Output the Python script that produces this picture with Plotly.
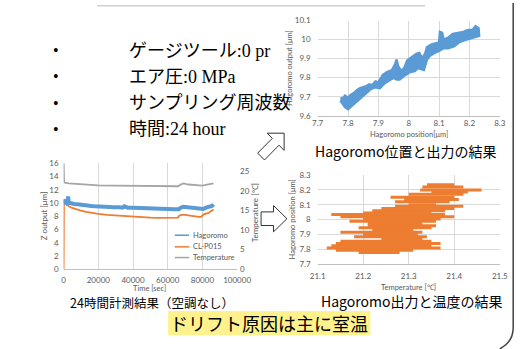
import plotly.graph_objects as go

W, H = 532, 349
def px(x): return x / W
def py(y): return 1 - y / H

BLUE = "#5B9BD5"
ORANGE = "#ED7D31"
GRAY = "#A5A5A5"
TICK = "#595959"
GRID = "#D9D9D9"

# ---------------- Chart 1: Hagoromo position vs output (band outline) ----------------
band_pos = [7.775, 7.785, 7.79, 7.80, 7.81, 7.82, 7.83, 7.84, 7.85, 7.86, 7.87, 7.88, 7.89, 7.90, 7.915, 7.93, 7.945, 7.955, 7.96,
            7.965, 7.975, 7.985, 7.995, 8.01, 8.025, 8.035, 8.045, 8.055, 8.06, 8.075, 8.09, 8.10,
            8.103, 8.11, 8.115, 8.13, 8.145, 8.16, 8.18, 8.195, 8.21, 8.22, 8.23,
            8.232, 8.22, 8.20, 8.18, 8.165, 8.15, 8.13, 8.115, 8.10, 8.085, 8.07, 8.06, 8.05, 8.04,
            8.03, 8.02, 8.005, 7.995, 7.985, 7.97, 7.96, 7.95, 7.935, 7.92, 7.905, 7.89, 7.875, 7.86,
            7.845, 7.83, 7.815, 7.80, 7.79, 7.78, 7.775]
band_out = [9.69, 9.695, 9.705, 9.695, 9.71, 9.72, 9.735, 9.745, 9.75, 9.755, 9.765, 9.76, 9.78, 9.775, 9.815, 9.83, 9.84, 9.87, 9.895,
            9.86, 9.835, 9.85, 9.89, 9.91, 9.925, 9.93, 9.90, 9.93, 9.96, 9.975, 9.98, 9.985,
            10.04, 10.035, 10.0, 10.01, 10.03, 10.035, 10.04, 10.05, 10.05, 10.07, 10.06,
            10.02, 10.015, 10.005, 9.995, 9.985, 9.965, 9.955, 9.955, 9.94, 9.93, 9.915, 9.895, 9.84, 9.845,
            9.85, 9.835, 9.83, 9.82, 9.81, 9.79, 9.79, 9.80, 9.785, 9.77, 9.745, 9.75, 9.74, 9.72,
            9.70, 9.68, 9.655, 9.635, 9.645, 9.665, 9.68]

# ---------------- Chart 2: 24 h time series ----------------
hag_t = [0, 500, 1000, 1500, 2000, 2400, 2600, 3000, 4000, 5000, 6000, 8000, 10000, 12000, 14000,
         16000, 18000, 20000, 23000, 26000, 29000, 32000, 34000, 35000, 37000, 40000, 43000, 46000,
         49000, 52000, 55000, 58000, 61000, 64000, 66500, 67500, 69000, 71000, 73000, 75000, 77000,
         79000, 80500, 82000, 84000, 85500, 86400]
hag_z = [10.5, 10.3, 10.1, 10.2, 10.0, 10.1, 11.0, 10.0, 10.0, 9.9, 9.85, 9.8, 9.7, 9.65, 9.6,
         9.55, 9.5, 9.45, 9.45, 9.4, 9.35, 9.35, 9.3, 9.5, 9.3, 9.3, 9.25, 9.2,
         9.15, 9.1, 9.1, 9.05, 9.05, 9.05, 9.05, 9.3, 9.45, 9.4, 9.35, 9.25, 9.2,
         9.05, 9.1, 9.3, 9.4, 9.55, 9.8]

cl_t = [0, 200, 1000, 2000, 3000, 4500, 6000, 8000, 10000, 13000, 16000, 20000, 25000, 30000,
        35000, 40000, 45000, 50000, 55000, 60000, 64000, 66000, 66700, 68000, 70000, 72000, 74000,
        76000, 78000, 79300, 80500, 82000, 83500, 85000, 86400]
cl_z = [0, 10.6, 10.0, 9.7, 9.5, 9.3, 9.15, 9.0, 8.85, 8.65, 8.5, 8.35, 8.2, 8.1,
        8.0, 7.95, 7.85, 7.8, 7.75, 7.75, 7.75, 7.8, 8.1, 8.2, 8.2, 8.1, 8.0,
        7.95, 7.9, 7.9, 8.25, 8.4, 8.5, 8.8, 9.0]

temp_t = [0, 300, 3000, 6000, 10000, 15000, 20000, 30000, 40000, 50000, 60000, 66000, 67500,
          69000, 72000, 76000, 80000, 82000, 84000, 85000, 86400]
temp_c = [27.5, 22.1, 21.9, 21.8, 21.6, 21.5, 21.4, 21.3, 21.25, 21.2, 21.15, 21.15, 21.6,
          21.9, 21.6, 21.4, 21.3, 21.5, 21.6, 21.8, 21.9]

# ---------------- Chart 3: temperature vs position (horizontal streaks) ----------------
streak_pos = [8.235, 8.22, 8.20, 8.185, 8.17, 8.15, 8.135, 8.12, 8.10, 8.09, 8.075, 8.06, 8.045, 8.035,
              8.02, 8.005, 7.99, 7.975, 7.96, 7.945, 7.93, 7.915, 7.90, 7.885, 7.87, 7.855, 7.84,
              7.825, 7.81, 7.795, 7.78]
streak_t0 = [21.34, 21.33, 21.325, 21.35, 21.30, 21.26, 21.29, 21.27, 21.30, 21.27, 21.24, 21.22, 21.20, 21.13,
             21.15, 21.20, 21.17, 21.21, 21.21, 21.19, 21.22, 21.15, 21.20, 21.18, 21.24, 21.15, 21.14,
             21.13, 21.12, 21.14, 21.19]
streak_t1 = [21.40, 21.42, 21.46, 21.43, 21.42, 21.40, 21.41, 21.39, 21.36, 21.42, 21.40, 21.38, 21.35, 21.38,
             21.40, 21.37, 21.36, 21.33, 21.36, 21.35, 21.31, 21.33, 21.32, 21.34, 21.33, 21.35, 21.37,
             21.35, 21.37, 21.31, 21.28]

sx, sy = [], []
for yv, a, b in zip(streak_pos, streak_t0, streak_t1):
    sx += [a, b, None]
    sy += [yv, yv, None]

fig = go.Figure()
fig.add_trace(go.Scatter(x=band_pos, y=band_out, mode="lines", fill="toself", fillcolor=BLUE,
                         line=dict(color=BLUE, width=2.5), xaxis="x", yaxis="y",
                         showlegend=False, hoverinfo="skip"))
fig.add_trace(go.Scatter(x=temp_t, y=temp_c, mode="lines", line=dict(color=GRAY, width=1.8),
                         xaxis="x2", yaxis="y3", name="Temperature", showlegend=False))
fig.add_trace(go.Scatter(x=cl_t, y=cl_z, mode="lines", line=dict(color=ORANGE, width=1.8),
                         xaxis="x2", yaxis="y2", name="CL-P015", showlegend=False))
fig.add_trace(go.Scatter(x=hag_t, y=hag_z, mode="lines", line=dict(color=BLUE, width=4),
                         xaxis="x2", yaxis="y2", name="Hagoromo", showlegend=False))
fig.add_trace(go.Scatter(x=sx, y=sy, mode="lines", line=dict(color=ORANGE, width=3),
                         xaxis="x3", yaxis="y4", showlegend=False, hoverinfo="skip"))

tickf = dict(family="Lato, Open Sans, sans-serif", size=8, color=TICK)
common = dict(showgrid=True, gridcolor=GRID, gridwidth=0.8, zeroline=False, ticks="",
              tickfont=tickf, fixedrange=True)

fig.update_layout(
    width=W, height=H, margin=dict(l=0, r=0, t=0, b=0),
    paper_bgcolor="white", plot_bgcolor="white", showlegend=False,
    xaxis=dict(domain=[px(323), px(513)], range=[7.7, 8.3], tick0=7.7, dtick=0.1, anchor="y",
               showline=True, linecolor="#BFBFBF", ticklabelstandoff=0, **common),
    yaxis=dict(domain=[py(114), py(16)], range=[9.6, 10.1], tick0=9.6, dtick=0.1, anchor="x",
               ticklabelstandoff=6, **common),
    xaxis2=dict(domain=[px(58), px(239)], range=[0, 100000], dtick=20000, tickformat="d",
                anchor="y2", showline=True, linecolor="#BFBFBF", ticklabelstandoff=3, **common),
    yaxis2=dict(domain=[py(272), py(163)], range=[0, 16], dtick=2, anchor="x2",
                showgrid=False, zeroline=False, ticks="", tickfont=tickf, ticklabelstandoff=4),
    yaxis3=dict(overlaying="y2", side="right", range=[0, 27], dtick=5, anchor="x2",
                showgrid=False, zeroline=False, ticks="", tickfont=tickf, ticklabelstandoff=2),
    xaxis3=dict(domain=[px(323), px(513)], range=[21.1, 21.5], tick0=21.1, dtick=0.1, anchor="y4",
                showline=True, linecolor="#BFBFBF", ticklabelstandoff=4, **common),
    yaxis4=dict(domain=[py(267), py(175)], range=[7.7, 8.3], tick0=7.7, dtick=0.1, anchor="x3",
                ticklabelstandoff=6, **common),
)

ann = []
def text(x, y, s, size, color="black", family="Noto Sans CJK JP", anchor="center", angle=0):
    ann.append(dict(x=px(x), y=py(y), xref="paper", yref="paper", text=s, showarrow=False,
                    xanchor=anchor, yanchor="middle", textangle=angle,
                    font=dict(size=size, color=color, family=family)))

axf = "Lato, Open Sans, sans-serif"
# axis titles
text(418, 133, "Hagoromo position[μm]", 7.5, TICK, axf)
text(293, 65, "Hagoromo output [μm]", 7.5, TICK, axf, angle=-90)
text(148, 292, "Time [sec]", 7.5, TICK, axf)
text(37, 217, "Z output [μm]", 8, TICK, axf, angle=-90)
text(257, 214, "Temperature [℃]", 8, TICK, axf, angle=-90)
text(418, 291, "Temperature [℃]", 7.5, TICK, axf)
text(297, 221, "Hagoromo position [μm]", 7.5, TICK, axf, angle=-90)

# legend of chart 2 (manual)
shapes = []
leg = [("Hagoromo", BLUE, 237), ("CL-P015", ORANGE, 249), ("Temperature", GRAY, 260)]
for name, col, yy in leg:
    shapes.append(dict(type="line", xref="paper", yref="paper", x0=px(174), x1=px(189),
                       y0=py(yy), y1=py(yy), line=dict(color=col, width=1.5)))
    text(191, yy, name, 7.5, TICK, axf, anchor="left")

# captions
text(415, 150, "Hagoromo位置と出力の結果", 14)
text(150, 306, "24時間計測結果（空調なし）", 12.5)
text(421, 305, "Hagoromo出力と温度の結果", 14)

# bullets
bf = "Liberation Serif, Noto Sans CJK JP"
rows = [(47, "ゲージツール:0 pr"), (74, "エア圧:0 MPa"), (101, "サンプリング周波数"), (128, "時間:24 hour")]
for yy, s in rows:
    text(50, yy, "•", 16, "black", bf)
    text(124, yy, s, 18, "black", bf, anchor="left")

# yellow box
shapes.append(dict(type="rect", xref="paper", yref="paper", x0=px(167), x1=px(378),
                   y0=py(340), y1=py(315), fillcolor="#FFF28C", line=dict(width=0), layer="below"))
text(272, 327.5, "ドリフト原因は主に室温", 18)

# frame lines
shapes.append(dict(type="line", xref="paper", yref="paper", x0=px(93), x1=px(435),
                   y0=py(0.7), y1=py(0.7), line=dict(color="#D0D0D0", width=1.5)))
shapes.append(dict(type="path", xref="paper", yref="paper",
                   path=f"M {px(527)} {py(-2)} L {px(527)} {py(332)} Q {px(527)} {py(347)} {px(513)} {py(354)}",
                   line=dict(color="#404040", width=1.5)))

# outline arrows
def arrow_path(tail, d, L, Lh, h, w):
    n = (-d[1], d[0])
    pts = [(0, -w), (L - Lh, -w), (L - Lh, -h), (L, 0), (L - Lh, h), (L - Lh, w), (0, w)]
    out = []
    for u, v in pts:
        x = tail[0] + u * d[0] + v * n[0]
        y = tail[1] + u * d[1] + v * n[1]
        out.append((px(x), py(y)))
    return "M " + " L ".join(f"{a} {b}" for a, b in out) + " Z"

shapes.append(dict(type="path", xref="paper", yref="paper",
                   path=arrow_path((264, 156), (0.7071, -0.7071), 34, 12.5, 12.5, 5),
                   fillcolor="white", line=dict(color="#333333", width=1)))
shapes.append(dict(type="path", xref="paper", yref="paper",
                   path=arrow_path((264, 220), (1, 0), 27, 14, 13.5, 7),
                   fillcolor="white", line=dict(color="#333333", width=1)))

fig.update_layout(annotations=ann, shapes=shapes)
fig.write_html("out.html", config={"displayModeBar": False},
               post_script="document.body.style.margin='0';document.body.style.overflow='hidden';")
